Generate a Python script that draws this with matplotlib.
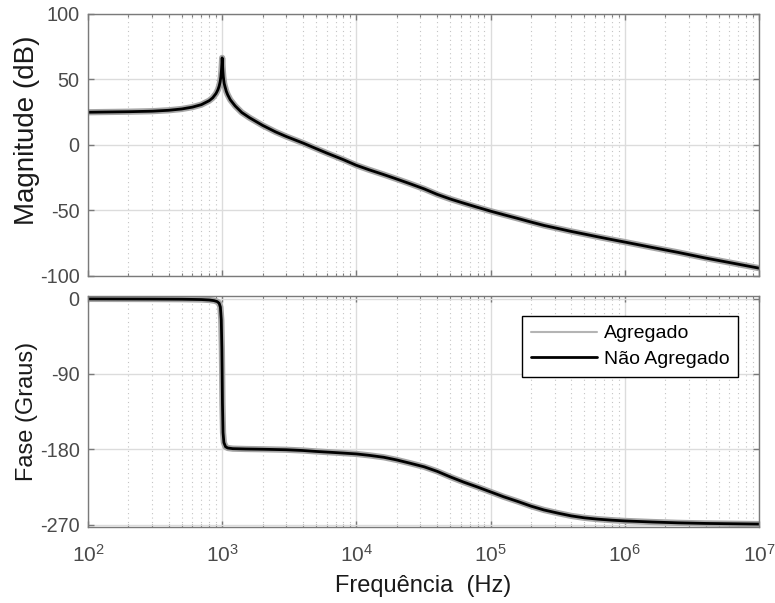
import matplotlib
matplotlib.use('Agg')
import matplotlib.pyplot as plt
from matplotlib.ticker import LogLocator, NullFormatter

plt.rcParams['font.family'] = ['Liberation Sans', 'DejaVu Sans']
plt.rcParams['axes.unicode_minus'] = False

# frequências (Hz)
freq_mag = [100, 200, 300, 400, 500, 600, 700, 800, 850, 900, 930, 950, 965,
            978, 988, 995, 1000, 1005, 1012, 1020, 1035, 1050, 1075, 1100,
            1150, 1250, 1400, 1600, 2000, 2500, 3000, 4000, 5000, 6000, 8000,
            10000, 12500, 16000, 20000, 25000, 32000, 40000, 50000, 63000,
            80000, 1e5, 1.25e5, 1.6e5, 2e5, 2.5e5, 3.2e5, 4e5, 5e5, 6.3e5,
            8e5, 1e6, 1.6e6, 2.5e6, 4e6, 6.3e6, 1e7]
mag_nao_agregado = [25.0, 25.4, 25.8, 26.5, 27.5, 28.9, 30.8, 33.8, 36.0, 39.3,
                    42.2, 45.0, 48.0, 52.0, 57.0, 62.0, 66.5, 62.0, 56.5, 52.0,
                    47.0, 44.5, 40.8, 38.3, 34.5, 29.8, 24.8, 20.8, 15.0, 10.0,
                    6.5, 1.5, -2.7, -6.1, -11.2, -15.5, -19.0, -22.6, -26.0,
                    -29.5, -33.5, -37.7, -41.2, -44.4, -47.6, -50.5, -53.2,
                    -56.1, -58.8, -61.4, -63.8, -66.0, -68.0, -70.1, -72.2,
                    -74.1, -78.2, -82.0, -86.3, -90.1, -94.0]
mag_agregado = list(mag_nao_agregado)

freq_fase = [100, 300, 500, 700, 800, 870, 920, 950, 970, 985, 995, 1000,
             1005, 1015, 1030, 1060, 1100, 1200, 1500, 2000, 3000, 4000, 5000,
             7000, 10000, 12500, 16000, 20000, 25000, 32000, 40000, 50000,
             63000, 80000, 1e5, 1.25e5, 1.6e5, 2e5, 2.5e5, 3.2e5, 4e5, 5e5,
             6.3e5, 8e5, 1e6, 1.6e6, 2.5e6, 4e6, 6.3e6, 1e7]
fase_nao_agregado = [-0.2, -0.4, -0.6, -1.0, -1.5, -2.3, -3.5, -5.5, -10,
                     -25, -60, -90, -125, -160, -172, -177, -178.5, -179.3,
                     -179.7, -180.0, -180.6, -181.5, -182.6, -184.0, -185.6,
                     -187.3, -189.6, -192.8, -196.6, -201.0, -206.4, -213.0,
                     -219.3, -225.2, -231.0, -236.8, -242.5, -248.0, -252.6,
                     -256.5, -259.7, -262.0, -263.6, -264.8, -265.7, -267.0,
                     -268.0, -268.7, -269.1, -269.5]
fase_agregado = list(fase_nao_agregado)

GRIS = '#a6a6a6'
EIXO = '#7a7a7a'
TEXTO_TICK = '#4a4a4a'


def estilo(ax):
    ax.set_xscale('log')
    ax.set_xlim(1e2, 1e7)
    ax.xaxis.set_major_locator(LogLocator(base=10, numticks=10))
    ax.xaxis.set_minor_locator(LogLocator(base=10, subs=range(2, 10), numticks=100))
    ax.xaxis.set_minor_formatter(NullFormatter())
    ax.grid(True, which='major', color='#dcdcdc', linewidth=1.0, linestyle='-')
    ax.grid(True, which='minor', axis='x', color='#c4c4c4', linewidth=0.8,
            linestyle=(0, (1, 3)))
    ax.set_axisbelow(True)
    ax.tick_params(which='both', direction='in', top=True, right=True,
                   colors=EIXO, labelcolor=TEXTO_TICK)
    ax.tick_params(which='major', length=4.5, width=1)
    ax.tick_params(which='minor', length=2.5, width=0.8)
    ax.tick_params(axis='y', labelsize=14.3, pad=6)
    ax.tick_params(axis='x', labelsize=15, pad=12)
    for s in ax.spines.values():
        s.set_color(EIXO)
        s.set_linewidth(1.0)


fig = plt.figure(figsize=(7.75, 6.03), dpi=100)
ax1 = fig.add_axes([0.1135, 0.5423, 0.8658, 0.4345])
ax2 = fig.add_axes([0.1135, 0.1260, 0.8658, 0.3836])

estilo_linha = dict(solid_joinstyle='round', solid_capstyle='round')

# magnitude
ax1.plot(freq_mag, mag_agregado, color=GRIS, linewidth=4.5, **estilo_linha)
ax1.plot(freq_mag, mag_nao_agregado, color='k', linewidth=2, **estilo_linha)
estilo(ax1)
ax1.set_ylim(-100, 100)
ax1.set_yticks([-100, -50, 0, 50, 100])
ax1.tick_params(axis='x', labelbottom=False)
ax1.set_ylabel('Magnitude (dB)', fontsize=20, color='#1a1a1a')
ax1.yaxis.set_label_coords(-0.072, 0.557)

# fase
ax2.plot(freq_fase, fase_agregado, color=GRIS, linewidth=4.5, label='Agregado',
         **estilo_linha)
ax2.plot(freq_fase, fase_nao_agregado, color='k', linewidth=2, label='Não Agregado',
         **estilo_linha)
estilo(ax2)
ax2.set_ylim(-273, 3.6)
ax2.set_yticks([0, -90, -180, -270])
ax2.set_ylabel('Fase (Graus)', fontsize=17, color='#1a1a1a')
ax2.yaxis.set_label_coords(-0.075, 0.5)
ax2.set_xlabel('Frequência  (Hz)', fontsize=17, color='#1a1a1a', labelpad=7)

leg = ax2.legend(loc='upper right', bbox_to_anchor=(0.969, 0.912), fontsize=14,
                 frameon=True, fancybox=False, framealpha=1, edgecolor='k',
                 handlelength=3.4, handletextpad=0.35, labelspacing=0.4,
                 borderpad=0.45, borderaxespad=0)
leg.get_frame().set_linewidth(1.0)
leg.get_lines()[0].set_linewidth(1.5)
leg.get_lines()[0].set_color('#b4b4b4')
leg.get_lines()[1].set_linewidth(2)

fig.savefig('out.png', dpi=100)
